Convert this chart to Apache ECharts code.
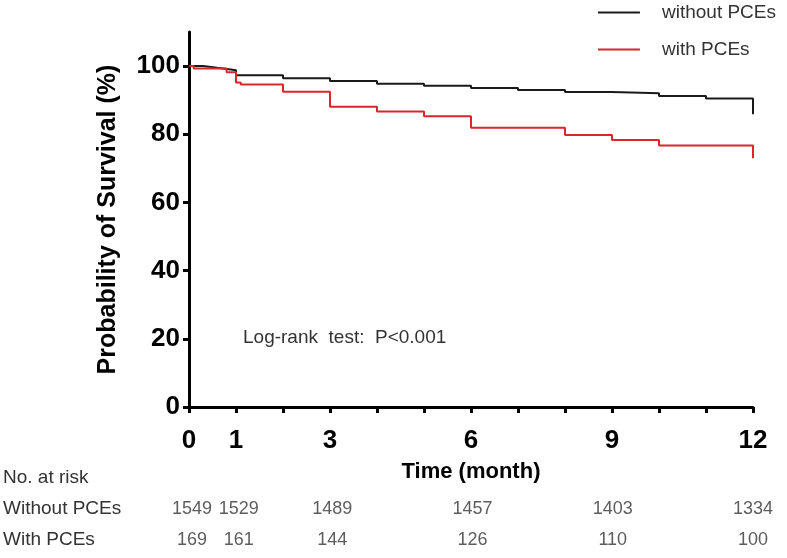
<!DOCTYPE html>
<html lang="en">
<head>
    <meta charset="UTF-8">
    <title>Survival</title>
    <script src="https://cdn.jsdelivr.net/npm/echarts@6/dist/echarts.min.js"></script>
    <style>
        body { margin: 0; background: #fff; }
    </style>
</head>
<body>
    <div id="main" style="width: 787px;height:558px;"></div>
    <script>
        // Kaplan-Meier curves: [month, survival %]
        var withoutPCEs = [
            [0, 100], [0.3, 99.5], [0.6, 99.1], [0.85, 98.8], [1, 97.3], [2, 96.4],
            [3, 95.6], [4, 94.8], [5, 94.2], [6, 93.6], [7, 93.0], [8, 92.4],
            [9, 92.0], [10, 91.2], [11, 90.5], [12, 90.5], [12, 85.9]
        ];
        var withPCEs = [
            [0, 100], [0.1, 99.3], [0.8, 98.2], [1, 95.2], [1.1, 94.6], [2, 92.5],
            [3, 88.1], [4, 86.7], [5, 85.3], [6, 81.9], [8, 79.8], [9, 78.3],
            [10, 76.7], [12, 76.7], [12, 73.0]
        ];

        // number at risk table
        var riskTimes = [0, 1, 3, 6, 9, 12];
        var riskWithout = [1549, 1529, 1489, 1457, 1403, 1334];
        var riskWith = [169, 161, 144, 126, 110, 100];
        var riskRows = ['With PCEs', 'Without PCEs', 'No. at risk'];

        var xLabelValues = [0, 1, 3, 6, 9, 12];
        var yLabelValues = [0, 20, 40, 60, 80, 100];

        var font = "'Liberation Sans', Arial, sans-serif";
        var narrow = "'Liberation Sans Narrow', 'Arial Narrow', 'Liberation Sans', sans-serif";

        var myChart = echarts.init(document.getElementById('main'));
        var option = {
            animation: false,
            textStyle: { fontFamily: font },
            legend: {
                orient: 'vertical',
                right: 6,
                top: -2,
                itemWidth: 42,
                itemHeight: 2,
                itemGap: 18,
                icon: 'rect',
                textStyle: { fontSize: 19, color: '#333', padding: [0, 0, 0, 17] },
                data: ['without PCEs', 'with PCEs']
            },
            graphic: [{
                type: 'text',
                left: 243,
                top: 328,
                style: { text: 'Log-rank  test:  P<0.001', font: '19px ' + font, fill: '#333' }
            }],
            grid: [
                { left: 189, right: 34, top: 32, bottom: 151 },
                { left: 189, right: 34, top: 478, bottom: 18 }
            ],
            xAxis: [{
                type: 'value',
                gridIndex: 0,
                min: 0,
                max: 12,
                interval: 1,
                name: 'Time (month)',
                nameLocation: 'middle',
                nameGap: 54,
                nameTextStyle: { fontSize: 22, fontWeight: 'bold', color: '#000' },
                axisLine: { lineStyle: { color: '#000', width: 3 } },
                axisTick: { length: 6, lineStyle: { width: 3, color: '#000' } },
                splitLine: { show: false },
                axisLabel: {
                    customValues: xLabelValues,
                    margin: 21,
                    fontSize: 26,
                    fontWeight: 'bold',
                    color: '#000'
                }
            }, {
                type: 'value',
                gridIndex: 1,
                min: 0,
                max: 12,
                show: false
            }],
            yAxis: [{
                type: 'value',
                gridIndex: 0,
                min: 0,
                max: 110,
                interval: 20,
                name: 'Probability of Survival (%)',
                nameLocation: 'middle',
                nameRotate: 90,
                nameGap: 68,
                nameTextStyle: { fontSize: 25, fontWeight: 'bold', color: '#000' },
                axisLine: { show: true, lineStyle: { color: '#000', width: 3 } },
                axisTick: { show: true, length: 6, customValues: yLabelValues, lineStyle: { width: 3, color: '#000' } },
                splitLine: { show: false },
                axisLabel: {
                    customValues: yLabelValues,
                    margin: 9,
                    fontSize: 26,
                    fontWeight: 'bold',
                    color: '#000'
                }
            }, {
                type: 'category',
                gridIndex: 1,
                data: riskRows,
                boundaryGap: false,
                axisLine: { show: false },
                axisTick: { show: false },
                axisLabel: {
                    align: 'left',
                    margin: 189,
                    fontSize: 19,
                    color: '#333'
                }
            }],
            series: [{
                name: 'without PCEs',
                type: 'line',
                step: 'end',
                symbol: 'none',
                color: '#1a1a1a',
                lineStyle: { width: 2 },
                data: withoutPCEs
            }, {
                name: 'with PCEs',
                type: 'line',
                step: 'end',
                symbol: 'none',
                color: '#d8262b',
                lineStyle: { width: 2 },
                data: withPCEs
            }, {
                type: 'scatter',
                xAxisIndex: 1,
                yAxisIndex: 1,
                symbolSize: 0,
                silent: true,
                label: {
                    show: true,
                    position: 'inside',
                    fontSize: 18,
                    fontFamily: narrow,
                    color: '#333',
                    formatter: function (p) { return riskWithout[p.dataIndex]; }
                },
                data: riskTimes.map(function (t) { return [t, 'Without PCEs']; })
            }, {
                type: 'scatter',
                xAxisIndex: 1,
                yAxisIndex: 1,
                symbolSize: 0,
                silent: true,
                label: {
                    show: true,
                    position: 'inside',
                    fontSize: 18,
                    fontFamily: narrow,
                    color: '#333',
                    formatter: function (p) { return riskWith[p.dataIndex]; }
                },
                data: riskTimes.map(function (t) { return [t, 'With PCEs']; })
            }]
        };
        myChart.setOption(option);
    </script>
</body>
</html>
